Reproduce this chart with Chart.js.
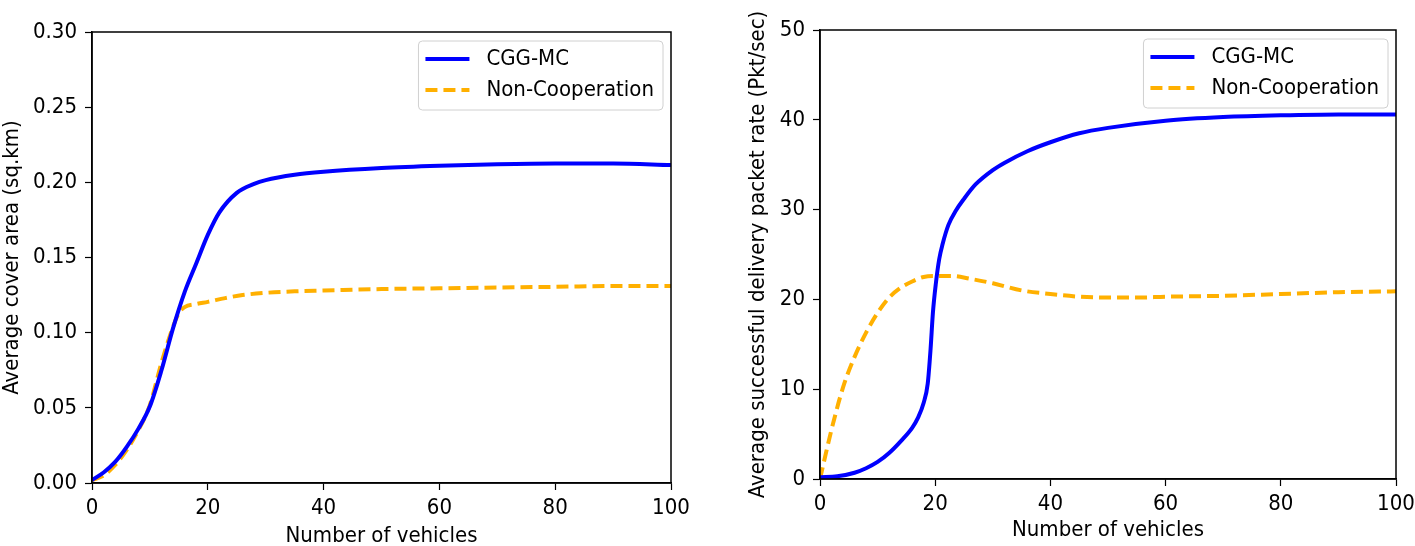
<!DOCTYPE html>
<html>
<head>
<meta charset="utf-8">
<script src="https://cdn.jsdelivr.net/npm/chart.js@4/dist/chart.umd.min.js"></script>
<style>
  body { margin: 0; background: #fff; overflow: hidden; }
  #left { position: absolute; left: 0; top: 0; }
  #right { position: absolute; left: 720px; top: 0; }
</style>
</head>
<body>
<canvas id="left" width="700" height="546"></canvas>
<canvas id="right" width="695" height="546"></canvas>
<script>
// left panel: average cover area
const areaX_cgg = [0, 2, 4, 6, 8, 10, 12, 14, 16, 18, 20, 22, 25, 28, 30, 35, 40, 50, 60, 70, 80, 90, 100];
const areaY_cgg = [0.002, 0.007, 0.014, 0.024, 0.036, 0.051, 0.075, 0.103, 0.127, 0.146, 0.165, 0.18, 0.193, 0.199, 0.2015, 0.205, 0.207, 0.2095, 0.211, 0.212, 0.2125, 0.2125, 0.2115];
const areaX_non = [0, 2, 4, 6, 8, 10, 12, 14, 15, 16, 18, 20, 23, 26, 30, 35, 40, 50, 60, 70, 80, 90, 100];
const areaY_non = [0.002, 0.005, 0.012, 0.022, 0.035, 0.052, 0.08, 0.104, 0.113, 0.117, 0.119, 0.1205, 0.123, 0.125, 0.1265, 0.1275, 0.128, 0.129, 0.1295, 0.13, 0.1305, 0.131, 0.131];

// right panel: delivery packet rate
const rateX_cgg = [0, 3, 6, 8, 10, 12, 14, 16, 17, 18, 18.7, 19.2, 19.6, 20.1, 20.7, 21.3, 22.3, 23.6, 25, 27, 30, 32, 36, 40, 45, 50, 60, 70, 80, 90, 100];
const rateY_cgg = [0.2, 0.3, 0.7, 1.2, 1.9, 2.9, 4.2, 5.7, 6.8, 8.5, 10.6, 14.5, 18.5, 21.7, 24.5, 26.2, 28.3, 29.9, 31.2, 32.8, 34.4, 35.2, 36.5, 37.5, 38.5, 39.1, 39.9, 40.3, 40.5, 40.6, 40.6];
const rateX_non = [0, 2, 4, 6, 8, 10, 12, 14, 16, 18, 20, 23, 26, 30, 35, 40, 45, 50, 55, 60, 70, 80, 90, 100];
const rateY_non = [0, 5.5, 10.2, 13.6, 16.3, 18.5, 20.2, 21.3, 22, 22.5, 22.6, 22.6, 22.3, 21.8, 21, 20.6, 20.3, 20.2, 20.2, 20.3, 20.4, 20.6, 20.8, 20.9];

const seriesNames = ['CGG-MC', 'Non-Cooperation'];
const xTicks = [0, 20, 40, 60, 80, 100];

const FONT = { family: "'DejaVu Sans Condensed', 'DejaVu Sans'", size: 22 };
const TITLE_FONT = { family: "'DejaVu Sans Condensed', 'DejaVu Sans'", size: 22, lineHeight: 1 };
const BLUE = '#0000ff';
const ORANGE = '#ffb000';

function pts(xs, ys) {
  return xs.map((x, i) => ({ x: x, y: ys[i] }));
}

// black box round the axes, like matplotlib
const framePlugin = {
  id: 'frame',
  afterDatasetsDraw(chart) {
    const a = chart.chartArea;
    const ctx = chart.ctx;
    ctx.save();
    ctx.strokeStyle = '#000';
    ctx.lineWidth = 1.5;
    ctx.strokeRect(a.left, a.top, a.right - a.left, a.bottom - a.top);
    ctx.restore();
  }
};

// legend box drawn inside the plot, top right
const boxLegend = {
  id: 'boxLegend',
  afterDraw(chart) {
    const a = chart.chartArea;
    const ctx = chart.ctx;
    ctx.save();
    ctx.font = FONT.size + 'px ' + FONT.family;
    const sets = chart.data.datasets;
    const textW = Math.max(...sets.map(d => ctx.measureText(d.label).width));
    const w = 7 + 44 + 17 + textW + 9;
    const h = 69;
    const x = a.right - 8 - w;
    const y = a.top + 9;
    ctx.beginPath();
    ctx.roundRect(x, y, w, h, 4);
    ctx.fillStyle = 'rgba(255,255,255,0.8)';
    ctx.fill();
    ctx.strokeStyle = '#d0d0d0';
    ctx.lineWidth = 1;
    ctx.stroke();
    sets.forEach((d, i) => {
      const cy = y + 18 + i * 31;
      ctx.beginPath();
      ctx.strokeStyle = d.borderColor;
      ctx.lineWidth = d.borderWidth;
      ctx.setLineDash(d.borderDash || []);
      ctx.moveTo(x + 7, cy);
      ctx.lineTo(x + 51, cy);
      ctx.stroke();
      ctx.setLineDash([]);
      ctx.fillStyle = '#000';
      ctx.textBaseline = 'middle';
      ctx.fillText(d.label, x + 68, cy);
    });
    ctx.restore();
  }
};

function makeChart(id, cfg) {
  return new Chart(document.getElementById(id), {
    type: 'line',
    data: {
      datasets: [
        { label: seriesNames[0], data: cfg.cgg, borderColor: BLUE, borderWidth: 4, pointRadius: 0, cubicInterpolationMode: 'monotone', order: 1 },
        { label: seriesNames[1], data: cfg.non, borderColor: ORANGE, borderWidth: 4, borderDash: [12, 6], pointRadius: 0, cubicInterpolationMode: 'monotone', order: 2 }
      ]
    },
    options: {
      responsive: false,
      animation: false,
      layout: { padding: cfg.padding },
      plugins: { legend: { display: false }, tooltip: { enabled: false } },
      scales: {
        x: {
          type: 'linear', min: 0, max: 100,
          afterFit: s => { s.height = cfg.xHeight; s.paddingRight = 0; s.paddingLeft = 0; },
          afterBuildTicks: s => { s.ticks = xTicks.map(v => ({ value: v })); },
          grid: { drawOnChartArea: false, color: '#000', tickLength: 7, tickWidth: 1.2 },
          border: { color: '#000', width: 1.5 },
          ticks: { color: '#000', font: FONT, padding: 5, maxRotation: 0 },
          title: { display: true, text: 'Number of vehicles', color: '#000', font: TITLE_FONT, padding: { top: 0, bottom: cfg.xTitlePad } }
        },
        y: {
          min: cfg.yMin, max: cfg.yMax,
          afterFit: s => { s.width = cfg.yWidth; s.paddingTop = 0; s.paddingBottom = 0; },
          afterBuildTicks: s => { s.ticks = cfg.yTicks.map(v => ({ value: v })); },
          grid: { drawOnChartArea: false, color: '#000', tickLength: 7, tickWidth: 1.2 },
          border: { color: '#000', width: 1.5 },
          ticks: { color: '#000', font: FONT, padding: 8, callback: cfg.yFmt },
          title: { display: true, text: cfg.yTitle, color: '#000', font: TITLE_FONT, padding: { top: cfg.yTitlePad, bottom: 0 } }
        }
      }
    },
    plugins: [framePlugin, boxLegend]
  });
}

const areaTicks = [0, 0.05, 0.10, 0.15, 0.20, 0.25, 0.30];
const rateTicks = [0, 10, 20, 30, 40, 50];

makeChart('left', {
  cgg: pts(areaX_cgg, areaY_cgg),
  non: pts(areaX_non, areaY_non),
  padding: { top: 32, right: 29, bottom: 0, left: 0 },
  xHeight: 63, yWidth: 92,
  xTitlePad: -1, yTitlePad: 1,
  yMin: 0, yMax: 0.3, yTicks: areaTicks,
  yFmt: v => v.toFixed(2),
  yTitle: 'Average cover area (sq.km)'
});

makeChart('right', {
  cgg: pts(rateX_cgg, rateY_cgg),
  non: pts(rateX_non, rateY_non),
  padding: { top: 30, right: 19, bottom: 0, left: 0 },
  xHeight: 67, yWidth: 100,
  xTitlePad: 5, yTitlePad: 27,
  yMin: 0, yMax: 50, yTicks: rateTicks,
  yFmt: v => v,
  yTitle: 'Average successful delivery packet rate (Pkt/sec)'
});
</script>
</body>
</html>
